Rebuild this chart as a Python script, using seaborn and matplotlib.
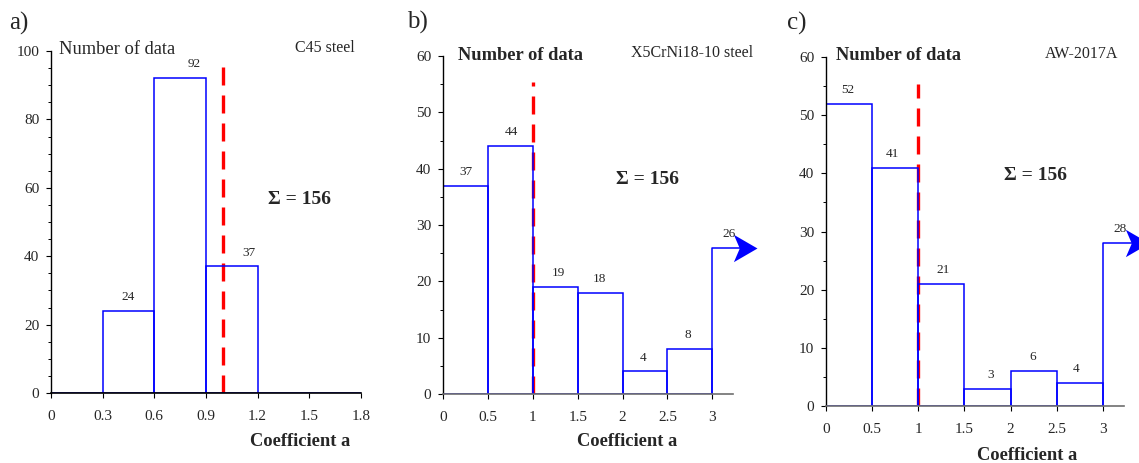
import numpy as np
import pandas as pd
import matplotlib
matplotlib.use("Agg")
import matplotlib.pyplot as plt
from matplotlib.ticker import MultipleLocator
from matplotlib.path import Path
import seaborn as sns

# ---------------- data ----------------
edges_a = [0, 0.3, 0.6, 0.9, 1.2, 1.5, 1.8]
counts_a = [0, 24, 92, 37, 0, 0]

edges_b = [0, 0.5, 1, 1.5, 2, 2.5, 3]
counts_b = [37, 44, 19, 18, 4, 8]
open_b = 26          # count for a >= 3 (open bin)

edges_c = [0, 0.5, 1, 1.5, 2, 2.5, 3]
counts_c = [52, 41, 21, 3, 6, 4]
open_c = 28

xtick_a = ["0", "0.3", "0.6", "0.9", "1.2", "1.5", "1.8"]
xtick_bc = ["0", "0.5", "1", "1.5", "2", "2.5", "3"]

materials = ["C45 steel", "X5CrNi18-10 steel", "AW-2017A"]
panel_letters = ["a)", "b)", "c)"]
total_label = "\u03a3 = 156"
ref_value = 1.0
ref_top = [96, 55.4, 55.3]

# ---------------- style ----------------
sns.set_style("ticks")
plt.rcParams["font.family"] = ["Liberation Serif", "DejaVu Serif"]

W, H = 1139, 463
fig = plt.figure(figsize=(W / 100, H / 100), dpi=100)


def px(x, y):
    return x / W, 1 - y / H


def ax_rect(l, r, b, t):
    return [l / W, 1 - b / H, (r - l) / W, (b - t) / H]


BLUE = "#0000FF"

# stealth-style arrow head marker (tip at the origin)
stealth = Path([(0, 0), (-1, 0.58), (-0.75, 0), (-1, -0.58), (0, 0)],
               [Path.MOVETO, Path.LINETO, Path.LINETO, Path.LINETO, Path.CLOSEPOLY])

panels = [
    dict(edges=edges_a, counts=counts_a, open=None, ticks=xtick_a,
         rect=ax_rect(51, 361, 393, 51), xlim=(0, 1.8), ylim=(0, 100), ymaj=20,
         label_dx=[0, 0, 0.08, 0.1, 0, 0], xspine="black"),
    dict(edges=edges_b, counts=counts_b, open=open_b, ticks=xtick_bc,
         rect=ax_rect(443, 733, 394, 56), xlim=(0, 3.23), ylim=(0, 60), ymaj=10,
         label_dx=[0, 0.01, 0.04, -0.01, -0.02, -0.02], xspine="#6e6e6e"),
    dict(edges=edges_c, counts=counts_c, open=open_c, ticks=xtick_bc,
         rect=ax_rect(826, 1124, 406, 57), xlim=(0, 3.23), ylim=(0, 60), ymaj=10,
         label_dx=[-0.01, -0.035, 0.02, 0.03, -0.01, -0.04], xspine="#6e6e6e"),
]

for i, p in enumerate(panels):
    ax = fig.add_axes(p["rect"])
    edges = list(p["edges"])
    centers = [(a + b) / 2 for a, b in zip(edges[:-1], edges[1:])]
    df = pd.DataFrame({"a": centers, "n": p["counts"]})

    # reference line (drawn first, histogram on top)
    ax.vlines(ref_value, 0, ref_top[i], colors="#FF0000", linewidth=2.4,
              linestyles=(0, (5.4, 3.0)), zorder=1)

    sns.histplot(data=df, x="a", weights="n", bins=edges, fill=False,
                 color=BLUE, linewidth=1.1, ax=ax, zorder=2)

    for c, n, dx in zip(centers, p["counts"], p["label_dx"]):
        if n > 0:
            ax.annotate(str(n), (c + dx, n), xytext=(0, 10), textcoords="offset points",
                        ha="center", va="center", fontsize=9.5)

    if p["open"] is not None:
        x0 = edges[-1]
        tip = x0 + 0.5
        ax.plot([x0, x0, tip - 0.08], [0, p["open"], p["open"]], color=BLUE,
                linewidth=1.1, zorder=2, clip_on=False)
        ax.plot([tip], [p["open"]], marker=stealth, markersize=34, color=BLUE,
                markeredgewidth=0, linestyle="none", clip_on=False, zorder=3)
        ax.annotate(str(p["open"]), (x0 + 0.19, p["open"]), xytext=(0, 10),
                    textcoords="offset points", ha="center", va="center", fontsize=9.5,
                    annotation_clip=False)

    ax.set_xlim(*p["xlim"])
    ax.set_ylim(*p["ylim"])
    ax.set_xticks(edges)
    ax.set_xticklabels(p["ticks"])
    ax.yaxis.set_major_locator(MultipleLocator(p["ymaj"]))
    ax.yaxis.set_minor_locator(MultipleLocator(5))
    ax.set_xlabel("")
    ax.set_ylabel("")
    sns.despine(ax=ax)
    ax.spines["left"].set_color("black")
    ax.spines["bottom"].set_color(p["xspine"])
    ax.spines["left"].set_linewidth(1.0)
    ax.spines["bottom"].set_linewidth(1.2)
    ax.tick_params(axis="y", which="major", direction="out", length=3.5, width=0.8,
                   pad=5, labelsize=11, color="black")
    ax.tick_params(axis="y", which="minor", direction="out", length=2.2, width=0.7,
                   color="black")
    ax.tick_params(axis="x", which="major", direction="out", length=3.5, width=0.8,
                   pad=9, labelsize=11, color="black")
    ax.set_facecolor("white")

# ---------------- texts ----------------
fs_letter = 18
fig.text(*px(9, 23), panel_letters[0], fontsize=fs_letter, ha="left", va="center")
fig.text(*px(407, 22), panel_letters[1], fontsize=fs_letter, ha="left", va="center")
fig.text(*px(787, 23), panel_letters[2], fontsize=fs_letter, ha="left", va="center")

fig.text(*px(59, 50), "Number of data", fontsize=13.3, ha="left", va="center")
fig.text(*px(458, 55), "Number of data", fontsize=13.3, fontweight="bold", ha="left", va="center")
fig.text(*px(836, 56), "Number of data", fontsize=13.3, fontweight="bold", ha="left", va="center")

fig.text(*px(355, 48), materials[0], fontsize=11.5, ha="right", va="center")
fig.text(*px(753, 53), materials[1], fontsize=11.5, ha="right", va="center")
fig.text(*px(1118, 54), materials[2], fontsize=11.5, ha="right", va="center")

for (x, y) in [(300, 199), (648, 179), (1035, 175)]:
    fig.text(*px(x, y), total_label, fontsize=14, fontweight="bold", ha="center", va="center")

for (x, y) in [(300, 442), (627, 442), (1027, 455)]:
    fig.text(*px(x, y), "Coefficient a", fontsize=13.3, fontweight="bold", ha="center", va="center")

fig.savefig("out.png", dpi=100, facecolor="white")
